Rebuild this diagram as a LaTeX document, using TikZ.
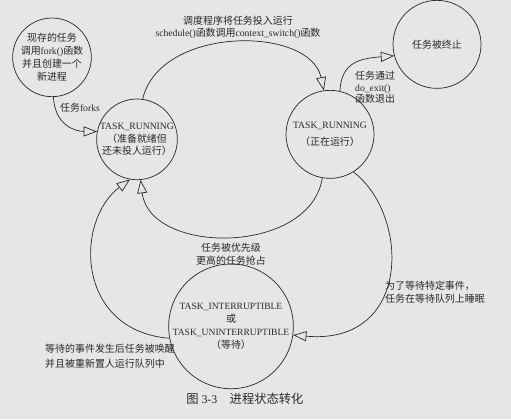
\documentclass[tikz,border=0pt]{standalone}
\usepackage{fontspec}
\setmainfont{Noto Sans CJK SC}
\newfontfamily\lat[Scale=0.97]{Liberation Serif}
\usetikzlibrary{arrows.meta}
\definecolor{paper}{RGB}{230,230,228}
\definecolor{ink}{RGB}{40,40,40}
\begin{document}
\begin{tikzpicture}[x=0.03cm,y=-0.03cm,
  state/.style={draw=ink, circle, minimum size=#1, inner sep=0pt, align=center,
    line width=0.6pt, text=ink, font=\fontsize{8.5}{11}\selectfont},
  conn/.style={draw=ink, line width=0.6pt,
    -{Triangle[open,length=4mm,width=3mm,fill=paper]}},
  lbl/.style={text=ink, font=\fontsize{8.5}{11}\selectfont, align=center, inner sep=0pt}
]
\fill[paper] (0,0) rectangle (511,419);

% states
\node[state=2.34cm] (A) at (52,57) {现存的任务\\调用{\lat fork()}函数\\并且创建一个\\新进程};
\node[state=2.4cm] (B) at (137,139) {{\lat TASK\_RUNNING}\\（准备就绪但\\还未投人运行）};
\node[state=2.64cm] (C) at (330,134) {{\lat TASK\_RUNNING}\\[3pt]（正在运行）};
\node[state=2.64cm] (D) at (437,44) {任务被终止};
\node[state=3.36cm] (E) at (231,326)
  {{\fontsize{8.4}{11}\selectfont\lat TASK\_INTERRUPTIBLE}\\或\\{\fontsize{8.4}{11}\selectfont\lat TASK\_UNINTERRUPTIBLE}\\（等待）};

% connectors
\draw[conn] (A.-88) .. controls (55,125) and (75,131) .. (B.169);
\draw[conn] (B.82) .. controls (160,25) and (310,25) .. (C.98);
\draw[conn] (C.77) .. controls (341,62) and (360,58) .. (D.-165);
\draw[conn] (C.-100) .. controls (310,255) and (150,255) .. (B.-85);
\draw[conn] (C.-58) .. controls (410,215) and (412,345) .. (E.-8);
\draw[conn] (E.-169) .. controls (75,330) and (75,220) .. (B.-100);

% labels
\node[lbl] (l1) at (80,107) {任务{\lat forks}};
\node[lbl] (l2) at (238,27) {调度程序将任务投入运行\\{\lat schedule()}函数调用{\lat context\_switch()}函数};
\node[lbl, anchor=west, align=left, font=\fontsize{8.5}{10}\selectfont] (l3) at (355,87) {任务通过\\{\lat do\_exit()}\\函数退出};
\node[lbl] (l4) at (231,254) {任务被优先级\\更高的任务抢占};
\node[lbl, anchor=west, align=left] (l5) at (385,292) {为了等待特定事件，\\任务在等待队列上睡眠};
\node[lbl, anchor=west, align=left, font=\fontsize{8.5}{13}\selectfont] (l6) at (45,356) {等待的事件发生后任务被唤醒\\并且被重新置人运行队列中};
\node[lbl, font=\fontsize{10.5}{12}\selectfont] (cap) at (245,398) {图 {\lat 3-3}\quad 进程状态转化};
\end{tikzpicture}
\end{document}
